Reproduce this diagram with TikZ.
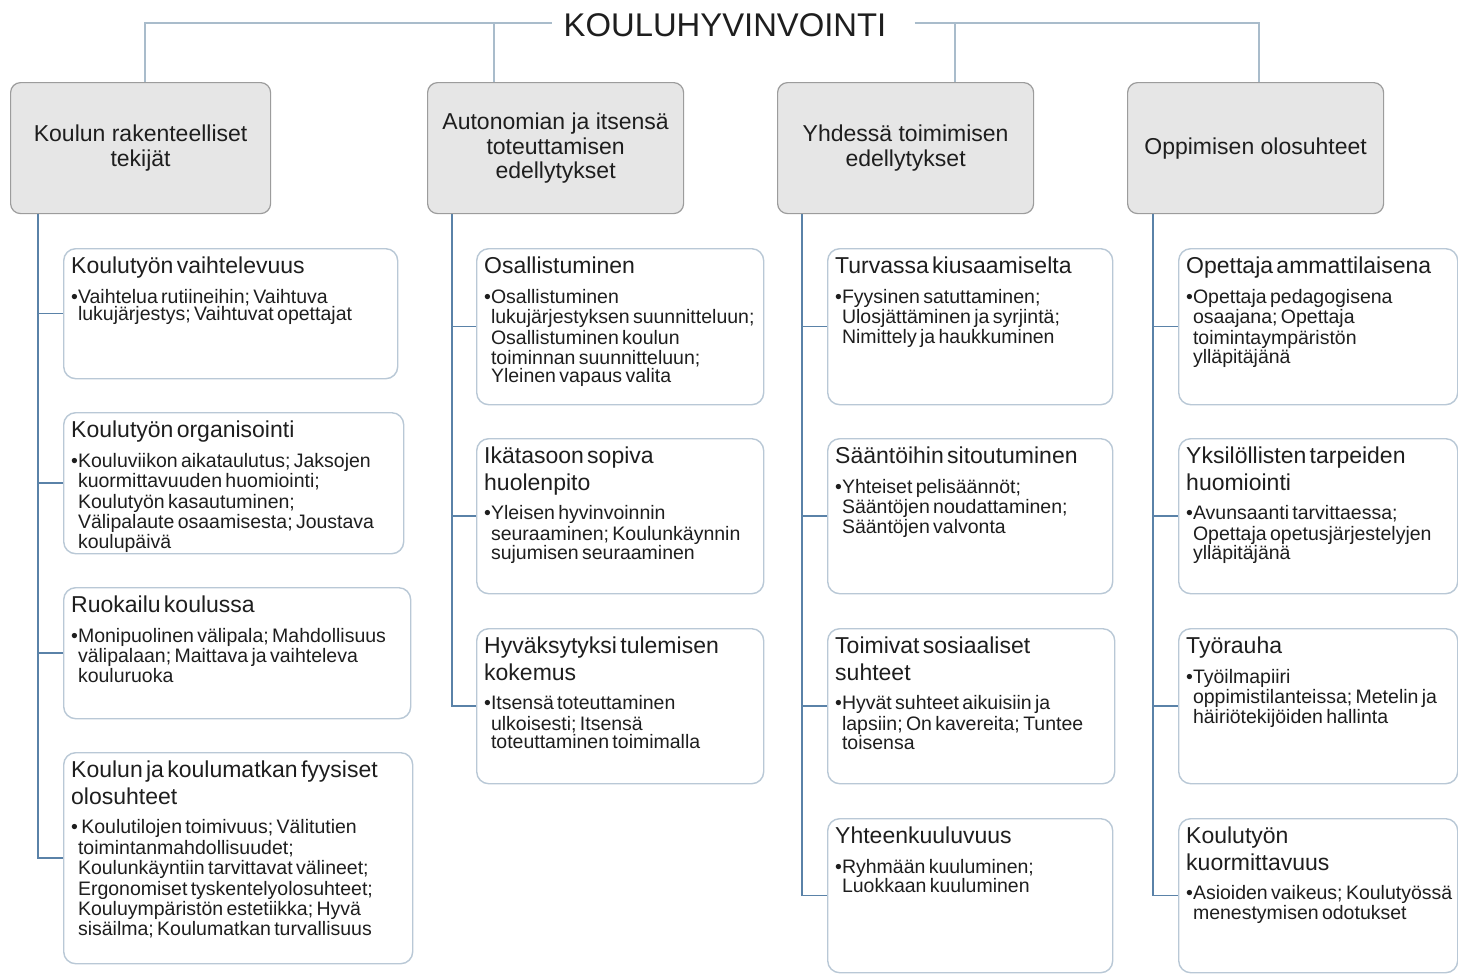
\documentclass[tikz,border=0pt]{standalone}
\usepackage{fontspec}
\setmainfont{Liberation Sans}
\usetikzlibrary{calc}
\definecolor{toplinec}{HTML}{A9BCCB}
\definecolor{connc}{HTML}{5A82A8}
\definecolor{cborder}{HTML}{B9C8D6}
\definecolor{hfill}{HTML}{E6E6E6}
\definecolor{hborder}{HTML}{9C9C9C}
\definecolor{txtc}{HTML}{1E1E1E}
\newcommand\ttlf{\fontsize{23}{26.5}\selectfont}
\newcommand\bodf{\fontsize{19.5}{20.5}\selectfont}
\newcommand\bi{\leavevmode\hphantom{•}}
\hyphenpenalty=10000
\exhyphenpenalty=10000
\lineskiplimit=-30pt
\tikzset{
  hdr/.style={draw=hborder, fill=hfill, line width=1.2pt, rounded corners=10pt,
    anchor=north west, minimum width=256pt, minimum height=131pt, align=center,
    inner sep=0pt, text=txtc, font=\fontsize{23}{24.5}\selectfont},
  cbox/.style={draw=cborder, fill=white, line width=1.4pt, rounded corners=12pt,
    anchor=north west, inner sep=0pt},
  ctxt/.style={anchor=north west, inner sep=0pt, align=left, text=txtc},
  tline/.style={draw=toplinec, line width=1.3pt},
  conn/.style={draw=connc, line width=1.5pt},
}
\newcommand\cb[6]{%
  \node[cbox, minimum width=#4pt, minimum height=#5pt] (#1) at (#2,#3) {};
  \pgfmathsetmacro\tw{#4-8}%
  \node[ctxt, text width=\tw pt] (#1t) at ($(#1.north west)+(8,9)$) {#6};
}
\begin{document}
\begin{tikzpicture}[x=1pt,y=-1pt]
\useasboundingbox (0,0) rectangle (1458,974);
\fill[white] (0,0) rectangle (1458,974);
\clip (0,0) rectangle (1458,974);

% title
\node[inner sep=0pt, text=txtc, font=\fontsize{32.8}{34}\selectfont] (title) at (725,25) {KOULUHYVINVOINTI};

% headers
\node[hdr, minimum width=260pt] (h1) at (10,82) {Koulun rakenteelliset\\tekijät};
\node[hdr] (h2) at (427,82) {Autonomian ja itsensä\\toteuttamisen\\edellytykset};
\node[hdr] (h3) at (777,82) {Yhdessä toimimisen\\edellytykset};
\node[hdr] (h4) at (1127,82) {Oppimisen olosuhteet};

% top connectors
\coordinate (tL) at ($(title.west)+(-12,-2)$);
\coordinate (tR) at ($(title.east)+(28,-2)$);
\coordinate (j2) at (494,23);
\coordinate (j3) at (955,23);
\draw[tline] (tL) -| ($(h1.north west)+(135,0)$);
\draw[tline] (j2) -- (j2 |- h2.north);
\draw[tline] (tR) -| ($(h4.north west)+(132,0)$);
\draw[tline] (j3) -- (j3 |- h3.north);

% column 1
\cb{b1}{63}{248}{334}{130}{\ttlf Koulutyön vaihtelevuus\\[9pt]\bodf •Vaihtelua rutiineihin; Vaihtuva\\\bi lukujärjestys; Vaihtuvat opettajat}
\cb{b2}{63}{412}{340}{141}{\ttlf Koulutyön organisointi\\[9pt]\bodf •Kouluviikon aikataulutus; Jaksojen\\\bi kuormittavuuden huomiointi;\\\bi Koulutyön kasautuminen;\\\bi Välipalaute osaamisesta; Joustava\\\bi koulupäivä}
\cb{b3}{63}{587}{347}{131}{\ttlf Ruokailu koulussa\\[9pt]\bodf •Monipuolinen välipala; Mahdollisuus\\\bi välipalaan; Maittava ja vaihteleva\\\bi kouluruoka}
\cb{b4}{63}{752}{349}{211}{\ttlf Koulun ja koulumatkan fyysiset\\olosuhteet\\[9pt]\bodf • Koulutilojen toimivuus; Välitutien\\\bi toimintanmahdollisuudet;\\\bi Koulunkäyntiin tarvittavat välineet;\\\bi Ergonomiset tyskentelyolosuhteet;\\\bi Kouluympäristön estetiikka; Hyvä\\\bi sisäilma; Koulumatkan turvallisuus}

% column 2
\cb{c1}{476}{248}{287}{156}{\ttlf Osallistuminen\\[9pt]\bodf •Osallistuminen\\\bi lukujärjestyksen suunnitteluun;\\\bi Osallistuminen koulun\\\bi toiminnan suunnitteluun;\\\bi Yleinen vapaus valita}
\cb{c2}{476}{438}{287}{155}{\ttlf Ikätasoon sopiva\\huolenpito\\[9pt]\bodf •Yleisen hyvinvoinnin\\\bi seuraaminen; Koulunkäynnin\\\bi sujumisen seuraaminen}
\cb{c3}{476}{628}{287}{155}{\ttlf Hyväksytyksi tulemisen\\kokemus\\[9pt]\bodf •Itsensä toteuttaminen\\\bi ulkoisesti; Itsensä\\\bi toteuttaminen toimimalla}

% column 3
\cb{d1}{827}{248}{285}{156}{\ttlf Turvassa kiusaamiselta\\[9pt]\bodf •Fyysinen satuttaminen;\\\bi Ulosjättäminen ja syrjintä;\\\bi Nimittely ja haukkuminen}
\cb{d2}{827}{438}{285}{155}{\ttlf Sääntöihin sitoutuminen\\[9pt]\bodf •Yhteiset pelisäännöt;\\\bi Sääntöjen noudattaminen;\\\bi Sääntöjen valvonta}
\cb{d3}{827}{628}{287}{155}{\ttlf Toimivat sosiaaliset\\suhteet\\[9pt]\bodf •Hyvät suhteet aikuisiin ja\\\bi lapsiin; On kavereita; Tuntee\\\bi toisensa}
\cb{d4}{827}{818}{285}{154}{\ttlf Yhteenkuuluvuus\\[9pt]\bodf •Ryhmään kuuluminen;\\\bi Luokkaan kuuluminen}

% column 4
\cb{e1}{1178}{248}{279}{156}{\ttlf Opettaja ammattilaisena\\[9pt]\bodf •Opettaja pedagogisena\\\bi osaajana; Opettaja\\\bi toimintaympäristön\\\bi ylläpitäjänä}
\cb{e2}{1178}{438}{279}{155}{\ttlf Yksilöllisten tarpeiden\\huomiointi\\[9pt]\bodf •Avunsaanti tarvittaessa;\\\bi Opettaja opetusjärjestelyjen\\\bi ylläpitäjänä}
\cb{e3}{1178}{628}{279}{155}{\ttlf Työrauha\\[9pt]\bodf •Työilmapiiri\\\bi oppimistilanteissa; Metelin ja\\\bi häiriötekijöiden hallinta}
\cb{e4}{1178}{818}{279}{154}{\ttlf Koulutyön\\kuormittavuus\\[9pt]\bodf •Asioiden vaikeus; Koulutyössä\\\bi menestymisen odotukset}

% column connectors
\coordinate (k1) at ($(h1.south west)+(28,0)$);
\coordinate (k2) at ($(h2.south west)+(25,0)$);
\coordinate (k3) at ($(h3.south west)+(25,0)$);
\coordinate (k4) at ($(h4.south west)+(26,0)$);
\foreach \b in {b1,b2,b3,b4} \draw[conn] (k1) |- (\b.west);
\foreach \b in {c1,c2,c3} \draw[conn] (k2) |- (\b.west);
\foreach \b in {d1,d2,d3,d4} \draw[conn] (k3) |- (\b.west);
\foreach \b in {e1,e2,e3,e4} \draw[conn] (k4) |- (\b.west);
\end{tikzpicture}
\end{document}
